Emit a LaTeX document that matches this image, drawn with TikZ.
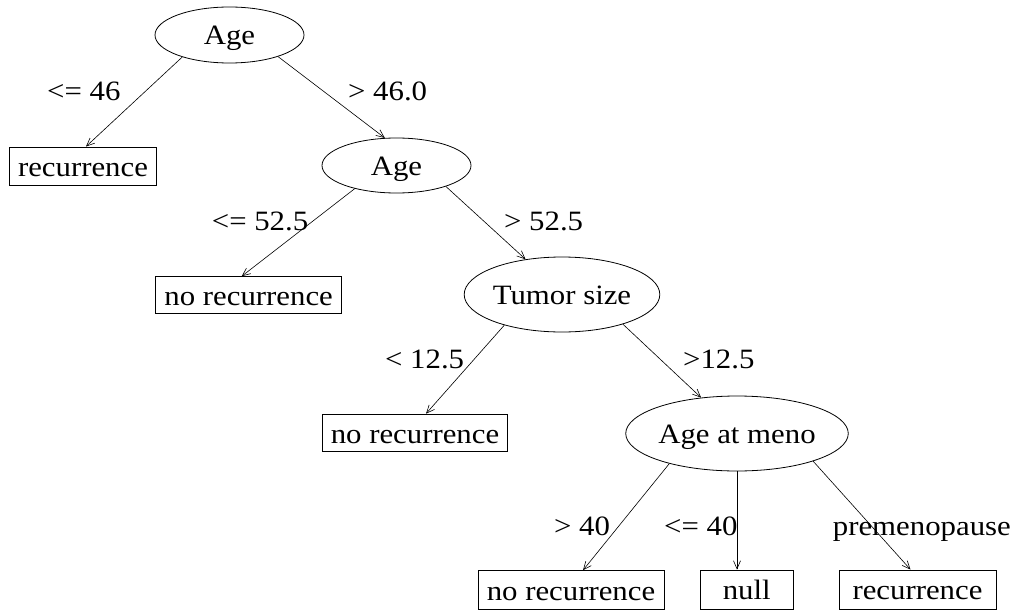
\documentclass[tikz,border=0pt]{standalone}
\usepackage{fontspec}
\setmainfont[FakeStretch=1.1]{Liberation Serif}
\usetikzlibrary{shapes.geometric,arrows.meta}
\begin{document}
\begin{tikzpicture}[x=1pt,y=-1pt,
  every node/.style={font=\fontsize{28pt}{32pt}\selectfont},
  test/.style={ellipse,draw,line width=0.8pt,inner sep=0pt,text height=19pt,text depth=0pt},
  leaf/.style={rectangle,draw,line width=0.9pt,inner sep=0pt,text height=20pt,text depth=0pt},
  lbl/.style={anchor=base west,inner sep=0pt},
  edge/.style={line width=0.6pt,-{Straight Barb[length=8pt,width=7pt]}}]
\useasboundingbox (0,0) rectangle (1014,610);
\fill[white] (0,0) rectangle (1014,610);
% decision nodes
\node[test,minimum width=149pt,minimum height=56pt] (age1) at (229.5,35) {Age};
\node[test,minimum width=149pt,minimum height=55pt] (age2) at (396.5,165.5) {Age};
\node[test,minimum width=166pt,minimum height=75pt] (tumor) at (562,294.5) {Tumor size};
\node[test,minimum width=204pt,minimum height=75pt] (meno) at (737,433.5) {Age at meno};
% leaves
\node[leaf,minimum width=147pt,minimum height=38pt] (rec1) at (83,166) {recurrence};
\node[leaf,minimum width=186pt,minimum height=36.6pt] (nr1) at (248.7,295) {no recurrence};
\node[leaf,minimum width=184.6pt,minimum height=37.7pt] (nr2) at (415,433) {no recurrence};
\node[leaf,minimum width=186pt,minimum height=38.6pt] (nr3) at (571,590) {no recurrence};
\node[leaf,minimum width=93pt,minimum height=39pt] (null) at (746.7,589.5) {null};
\node[leaf,minimum width=157pt,minimum height=39pt] (rec3) at (917.5,589.5) {recurrence};
% edges
\draw[edge] (age1.205) -- ([xshift=3pt]rec1.north);
\draw[edge] (age1.336) -- (age2.113);
\draw[edge] (age2.209) -- ([xshift=-7pt]nr1.north);
\draw[edge] (age2.337) -- (tumor.136);
\draw[edge] (tumor.208) -- ([xshift=11pt]nr2.north);
\draw[edge] (tumor.334) -- (meno.135);
\draw[edge] (meno.204) -- ([xshift=12pt]nr3.north);
\draw[edge] (meno.south) -- (meno.south |- null.north);
\draw[edge] (meno.340) -- ([xshift=-7pt]rec3.north);
% labels
\node[lbl] (l1) at (47,100) {<= 46};
\node[lbl] (l2) at (348,100) {> 46.0};
\node[lbl] (l3) at (211.7,230) {<= 52.5};
\node[lbl] (l4) at (504,230) {> 52.5};
\node[lbl] (l5) at (385,368) {< 12.5};
\node[lbl] (l6) at (683,368) {>12.5};
\node[lbl] (l7) at (554,535) {> 40};
\node[lbl] (l8) at (664,535) {<= 40};
\node[lbl] (l9) at (832.7,535) {premenopause};
\end{tikzpicture}
\end{document}
